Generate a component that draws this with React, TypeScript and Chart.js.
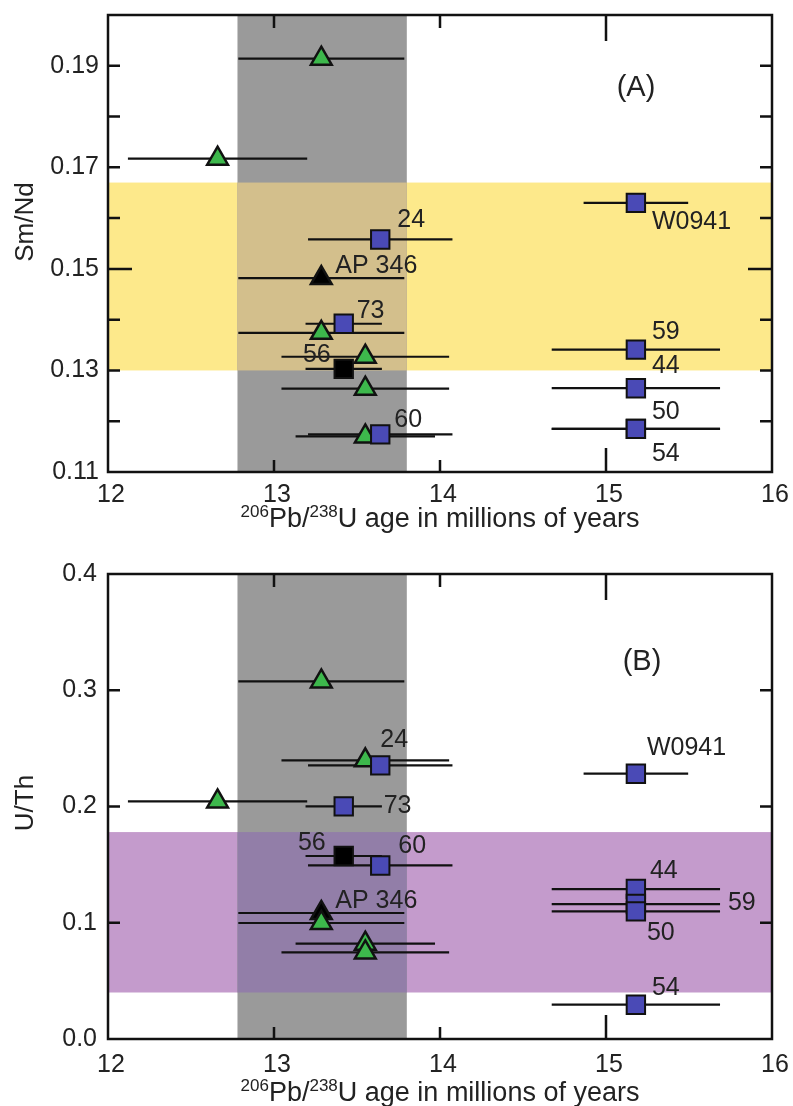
import React, { useEffect, useRef } from "react";
import { Chart, registerables } from "chart.js";

Chart.register(...registerables);

const FONT = '"Liberation Sans", Arial, Helvetica, sans-serif';
const TEXT = "#222222";

// ---------- shared x axis (age, Ma) ----------
const xTickValues = [12, 13, 14, 15, 16];
const xInnerTicks = [13, 14, 15];
const xLongTick = 15;
const grayBandAge = [12.78, 13.8];

// ---------- Panel A : Sm/Nd ----------
const yTicksA = [0.11, 0.13, 0.15, 0.17, 0.19];
const yInnerTicksA = [0.12, 0.13, 0.14, 0.15, 0.16, 0.17, 0.18, 0.19];
const yLongTickA = 0.15;
const smNdBand = [0.13, 0.167];

const blueLabelsA = ["24", "73", "60", "W0941", "59", "44", "50", "54"];
const blueAgeA = [13.64, 13.42, 13.64, 15.18, 15.18, 15.18, 15.18, 15.18];
const blueErrA = [0.435, 0.23, 0.435, 0.315, 0.507, 0.507, 0.507, 0.507];
const blueSmNd = [0.1558, 0.1392, 0.1174, 0.163, 0.1341, 0.1265, 0.1185, 0.1185];

const greenAgeA = [13.285, 12.66, 13.285, 13.55, 13.55, 13.55];
const greenErrA = [0.5, 0.54, 0.5, 0.505, 0.505, 0.42];
const greenSmNd = [0.1914, 0.1717, 0.1374, 0.1327, 0.1264, 0.117];

const apLabel = ["AP 346"];
const apAge = [13.285];
const apErr = [0.5];
const apSmNd = [0.1482];

const s56Label = ["56"];
const s56Age = [13.42];
const s56Err = [0.23];
const s56SmNd = [0.1303];

// ---------- Panel B : U/Th ----------
const yTicksB = [0.0, 0.1, 0.2, 0.3, 0.4];
const yInnerTicksB = [0.1, 0.2, 0.3];
const uThBand = [0.04, 0.178];

const blueLabelsB = ["24", "73", "60", "W0941", "44", "59", "50", "54"];
const blueAgeB = [13.64, 13.42, 13.64, 15.18, 15.18, 15.18, 15.18, 15.18];
const blueErrB = [0.435, 0.23, 0.435, 0.315, 0.507, 0.507, 0.507, 0.507];
const blueUTh = [0.2354, 0.2001, 0.1493, 0.2282, 0.129, 0.1161, 0.1098, 0.0295];

const greenAgeB = [13.285, 13.55, 12.66, 13.285, 13.55, 13.55];
const greenErrB = [0.5, 0.505, 0.54, 0.5, 0.42, 0.505];
const greenUTh = [0.3076, 0.2397, 0.2044, 0.0998, 0.082, 0.0745];

const apUTh = [0.1084];
const s56UTh = [0.1574];

// ---------- label placement (layout, px) ----------
type LabelPos = { dx: number; dy: number; align?: CanvasTextAlign };
const labelLayoutA: Record<string, LabelPos> = {
  "24": { dx: 17, dy: -19 },
  "73": { dx: 13, dy: -13 },
  "60": { dx: 14, dy: -14 },
  W0941: { dx: 16, dy: 19 },
  "59": { dx: 16, dy: -18 },
  "44": { dx: 16, dy: -22 },
  "50": { dx: 16, dy: -17 },
  "54": { dx: 16, dy: 25 },
  "AP 346": { dx: 14, dy: -12 },
  "56": { dx: -13, dy: -14, align: "right" },
};
const labelLayoutB: Record<string, LabelPos> = {
  "24": { dx: 0, dy: -25 },
  "73": { dx: 40, dy: 0 },
  "60": { dx: 18, dy: -19 },
  W0941: { dx: 11, dy: -26 },
  "44": { dx: 14, dy: -18 },
  "59": { dx: 92, dy: -1 },
  "50": { dx: 11, dy: 22 },
  "54": { dx: 16, dy: -17 },
  "AP 346": { dx: 14, dy: -12 },
  "56": { dx: -18, dy: -13, align: "right" },
};

const BLUE = "#4a4ab6";
const GREEN = "#3db84c";
const EDGE = "#111111";

function pts(xs: number[], ys: number[]) {
  return xs.map((x, i) => ({ x, y: ys[i] }));
}

function makeDatasets(
  blue: [number[], number[], number[], string[]],
  green: [number[], number[], number[]],
  ap: [number[], number[], number[]],
  s56: [number[], number[], number[]]
) {
  return [
    {
      data: pts(blue[0], blue[1]),
      errX: blue[2],
      ptLabels: blue[3],
      pointStyle: "rect",
      pointRadius: 13,
      backgroundColor: BLUE,
      borderColor: EDGE,
      borderWidth: 2,
    },
    {
      data: pts(green[0], green[1]),
      errX: green[2],
      ptLabels: [],
      pointStyle: "triangle",
      pointRadius: 12,
      backgroundColor: GREEN,
      borderColor: EDGE,
      borderWidth: 2.5,
    },
    {
      data: pts(ap[0], ap[1]),
      errX: ap[2],
      ptLabels: apLabel,
      pointStyle: "triangle",
      pointRadius: 12,
      backgroundColor: "#000000",
      borderColor: EDGE,
      borderWidth: 2.5,
    },
    {
      data: pts(s56[0], s56[1]),
      errX: s56[2],
      ptLabels: s56Label,
      pointStyle: "rect",
      pointRadius: 13,
      backgroundColor: "#000000",
      borderColor: EDGE,
      borderWidth: 2,
    },
  ];
}

type PanelCfg = {
  yMin: number;
  yMax: number;
  yTicks: number[];
  yInner: number[];
  yLong: number | null;
  decimals: number;
  band: number[];
  bandColor: string;
  overlapColor: string;
  datasets: any[];
  layout: Record<string, LabelPos>;
  yTitle: string;
  yTitleCy: number;
  letter: string;
  letterPos: [number, number];
  padTop: number;
  xAxisHeight: number;
  xTickPad: number;
  yTickPad: number;
  xTitleOffset: number;
};

function drawXTitle(ctx: CanvasRenderingContext2D, cx: number, baseline: number) {
  const main = `27px ${FONT}`;
  const sup = `17px ${FONT}`;
  const parts: [string, string, boolean][] = [
    ["206", sup, true],
    ["Pb/", main, false],
    ["238", sup, true],
    ["U age in millions of years", main, false],
  ];
  let total = 0;
  const widths = parts.map(([t, f]) => {
    ctx.font = f;
    const w = ctx.measureText(t).width;
    total += w;
    return w;
  });
  let x = cx - total / 2;
  ctx.textAlign = "left";
  ctx.textBaseline = "alphabetic";
  ctx.fillStyle = TEXT;
  parts.forEach(([t, f, isSup], i) => {
    ctx.font = f;
    ctx.fillText(t, x, isSup ? baseline - 10 : baseline);
    x += widths[i];
  });
}

function makeDecor(cfg: PanelCfg) {
  return {
    id: "decor",
    beforeDatasetsDraw(chart: any) {
      const { ctx, chartArea: a, scales } = chart;
      const xs = scales.x;
      const ys = scales.y;
      ctx.save();
      const bTop = ys.getPixelForValue(cfg.band[1]);
      const bBot = ys.getPixelForValue(cfg.band[0]);
      ctx.fillStyle = cfg.bandColor;
      ctx.fillRect(a.left, bTop, a.right - a.left, bBot - bTop);
      const gL = xs.getPixelForValue(grayBandAge[0]);
      const gR = xs.getPixelForValue(grayBandAge[1]);
      ctx.fillStyle = "#9a9a9a";
      ctx.fillRect(gL, a.top, gR - gL, a.bottom - a.top);
      ctx.fillStyle = cfg.overlapColor;
      ctx.fillRect(gL, bTop, gR - gL, bBot - bTop);
      ctx.strokeStyle = "#111111";
      ctx.lineWidth = 2.2;
      chart.data.datasets.forEach((ds: any) => {
        ds.data.forEach((p: any, i: number) => {
          const e = ds.errX[i];
          const y = ys.getPixelForValue(p.y);
          ctx.beginPath();
          ctx.moveTo(xs.getPixelForValue(p.x - e), y);
          ctx.lineTo(xs.getPixelForValue(p.x + e), y);
          ctx.stroke();
        });
      });
      ctx.restore();
    },
    afterDatasetsDraw(chart: any) {
      const { ctx, chartArea: a, scales } = chart;
      const xs = scales.x;
      const ys = scales.y;
      ctx.save();
      ctx.font = `25px ${FONT}`;
      ctx.fillStyle = TEXT;
      ctx.textBaseline = "middle";
      chart.data.datasets.forEach((ds: any) => {
        ds.ptLabels.forEach((lab: string, i: number) => {
          const p = ds.data[i];
          const pos = cfg.layout[lab];
          if (!pos) return;
          ctx.textAlign = pos.align || "left";
          ctx.fillText(lab, xs.getPixelForValue(p.x) + pos.dx, ys.getPixelForValue(p.y) + pos.dy);
        });
      });
      ctx.strokeStyle = "#111111";
      ctx.lineWidth = 2.5;
      ctx.strokeRect(a.left, a.top, a.right - a.left, a.bottom - a.top);
      cfg.yInner.forEach((v) => {
        const y = ys.getPixelForValue(v);
        const long = cfg.yLong !== null && Math.abs(v - cfg.yLong) < 1e-9;
        const len = long ? 24 : 12;
        ctx.beginPath();
        ctx.moveTo(a.left, y);
        ctx.lineTo(a.left + len, y);
        ctx.moveTo(a.right, y);
        ctx.lineTo(a.right - len, y);
        ctx.stroke();
      });
      xInnerTicks.forEach((v) => {
        const x = xs.getPixelForValue(v);
        const long = v === xLongTick;
        ctx.beginPath();
        ctx.moveTo(x, a.bottom);
        ctx.lineTo(x, a.bottom - (long ? 24 : 12));
        ctx.moveTo(x, a.top);
        ctx.lineTo(x, a.top + (long ? 26 : 13));
        ctx.stroke();
      });
      ctx.font = `29px ${FONT}`;
      ctx.textAlign = "center";
      ctx.textBaseline = "middle";
      ctx.fillText(cfg.letter, cfg.letterPos[0], cfg.letterPos[1]);
      ctx.save();
      ctx.translate(33, cfg.yTitleCy);
      ctx.rotate(-Math.PI / 2);
      ctx.font = `26px ${FONT}`;
      ctx.textAlign = "center";
      ctx.textBaseline = "alphabetic";
      ctx.fillText(cfg.yTitle, 0, 0);
      ctx.restore();
      drawXTitle(ctx, (a.left + a.right) / 2, a.bottom + cfg.xTitleOffset);
      ctx.restore();
    },
  };
}

function Panel({ cfg }: { cfg: PanelCfg }) {
  const ref = useRef<HTMLCanvasElement>(null);
  useEffect(() => {
    const chart = new Chart(ref.current as HTMLCanvasElement, {
      type: "scatter",
      data: { datasets: cfg.datasets as any },
      options: {
        responsive: false,
        animation: false,
        events: [],
        layout: { padding: { top: cfg.padTop, right: 21, left: 0, bottom: 0 } },
        plugins: { legend: { display: false }, tooltip: { enabled: false } },
        scales: {
          x: {
            type: "linear",
            position: "bottom",
            min: 12,
            max: 16,
            grid: { display: false, drawTicks: false },
            border: { display: false },
            afterBuildTicks: (s: any) => {
              s.ticks = xTickValues.map((v) => ({ value: v }));
            },
            afterFit: (s: any) => {
              s.height = cfg.xAxisHeight;
              s.paddingLeft = 0;
              s.paddingRight = 0;
            },
            ticks: {
              font: { family: FONT, size: 25 },
              color: TEXT,
              padding: cfg.xTickPad,
              labelOffset: 3,
              maxRotation: 0,
              autoSkip: false,
              callback: (v: any) => String(v),
            },
          },
          y: {
            type: "linear",
            min: cfg.yMin,
            max: cfg.yMax,
            grid: { display: false, drawTicks: false },
            border: { display: false },
            afterBuildTicks: (s: any) => {
              s.ticks = cfg.yTicks.map((v) => ({ value: v }));
            },
            afterFit: (s: any) => {
              s.width = 108;
              s.paddingTop = 0;
              s.paddingBottom = 0;
            },
            ticks: {
              font: { family: FONT, size: 25 },
              color: TEXT,
              padding: cfg.yTickPad,
              autoSkip: false,
              callback: (v: any) => Number(v).toFixed(cfg.decimals),
            },
          },
        },
      } as any,
      plugins: [makeDecor(cfg)],
    });
    return () => chart.destroy();
  }, [cfg]);
  return (
    <canvas
      ref={ref}
      width={793}
      height={553}
      style={{ display: "block", width: 793, height: 553 }}
    />
  );
}

const panelA: PanelCfg = {
  yMin: 0.11,
  yMax: 0.2,
  yTicks: yTicksA,
  yInner: yInnerTicksA,
  yLong: yLongTickA,
  decimals: 2,
  band: smNdBand,
  bandColor: "#fde98b",
  overlapColor: "#d3bf8c",
  datasets: makeDatasets(
    [blueAgeA, blueSmNd, blueErrA, blueLabelsA],
    [greenAgeA, greenSmNd, greenErrA],
    [apAge, apSmNd, apErr],
    [s56Age, s56SmNd, s56Err]
  ),
  layout: labelLayoutA,
  yTitle: "Sm/Nd",
  yTitleCy: 222,
  letter: "(A)",
  letterPos: [636, 88],
  padTop: 8,
  xAxisHeight: 81,
  xTickPad: 8,
  yTickPad: 9,
  xTitleOffset: 55,
};

const panelB: PanelCfg = {
  yMin: 0,
  yMax: 0.4,
  yTicks: yTicksB,
  yInner: yInnerTicksB,
  yLong: null,
  decimals: 1,
  band: uThBand,
  bandColor: "#c49bcc",
  overlapColor: "#927ea8",
  datasets: makeDatasets(
    [blueAgeB, blueUTh, blueErrB, blueLabelsB],
    [greenAgeB, greenUTh, greenErrB],
    [apAge, apUTh, apErr],
    [s56Age, s56UTh, s56Err]
  ),
  layout: labelLayoutB,
  yTitle: "U/Th",
  yTitleCy: 250,
  letter: "(B)",
  letterPos: [642, 109],
  padTop: 21,
  xAxisHeight: 67,
  xTickPad: 11,
  yTickPad: 11,
  xTitleOffset: 62,
};

export default function App() {
  return (
    <div
      style={{
        position: "absolute",
        left: 0,
        top: 0,
        width: 793,
        height: 1106,
        background: "#ffffff",
        overflow: "hidden",
      }}
    >
      <Panel cfg={panelA} />
      <Panel cfg={panelB} />
    </div>
  );
}
